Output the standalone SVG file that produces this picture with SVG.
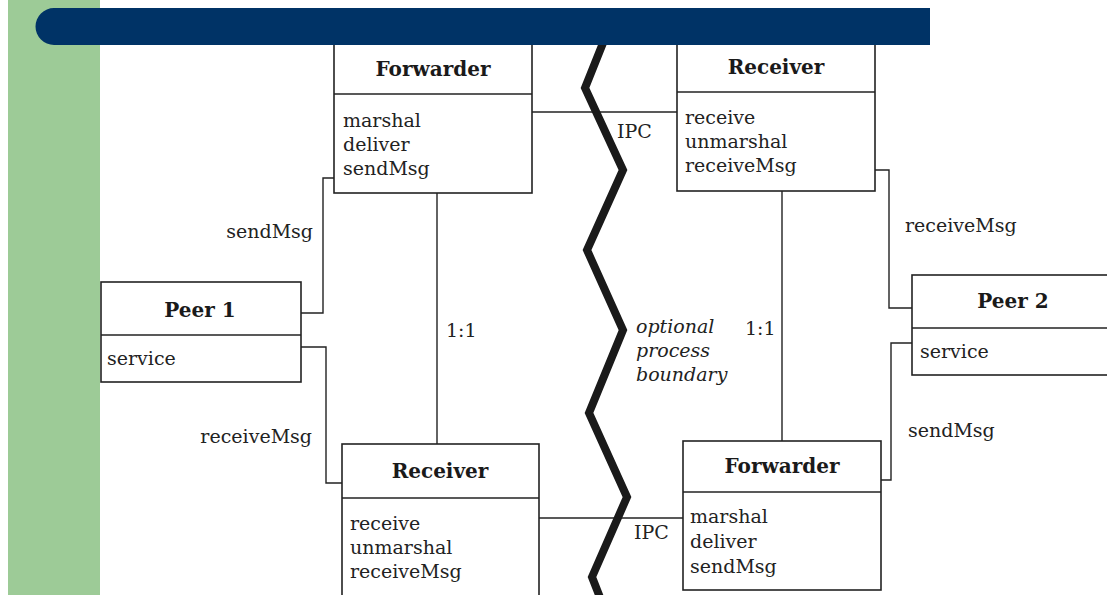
<svg xmlns="http://www.w3.org/2000/svg" width="1107" height="595" viewBox="0 0 1107 595">
<style>
.box{fill:#fff;stroke:#222;stroke-width:1.6}
.sep{stroke:#222;stroke-width:1.6}
.con{fill:none;stroke:#222;stroke-width:1.4}
.t{font-family:"DejaVu Serif","Liberation Serif",serif;font-size:19px;fill:#222}
.b{font-family:"DejaVu Serif","Liberation Serif",serif;font-size:20px;font-weight:bold;fill:#1a1a1a;text-anchor:middle}
.i{font-family:"DejaVu Serif","Liberation Serif",serif;font-size:19px;font-style:italic;fill:#222}
</style>
<rect x="0" y="0" width="1107" height="595" fill="#fff"/>
<rect x="8" y="0" width="92" height="595" fill="#9dcb97"/>
<g id="connectors">
<polyline class="con" points="301,313 323,313 323,178 334,178"/>
<polyline class="con" points="301,347 326,347 326,483 342,483"/>
<line class="con" x1="437" y1="193" x2="437" y2="444"/>
<line class="con" x1="532" y1="112" x2="677" y2="112"/>
<line class="con" x1="539" y1="518" x2="683" y2="518"/>
<line class="con" x1="782" y1="191" x2="782" y2="441"/>
<polyline class="con" points="875,170 889,170 889,308 912,308"/>
<polyline class="con" points="912,343 891,343 891,480 881,480"/>
<text class="t" x="313" y="238" text-anchor="end">sendMsg</text>
<text class="t" x="312" y="443" text-anchor="end">receiveMsg</text>
<text class="t" x="905" y="232">receiveMsg</text>
<text class="t" x="908" y="437">sendMsg</text>
<text class="t" x="446" y="337">1:1</text>
<text class="t" x="745" y="335">1:1</text>
<text class="t" x="617" y="138">IPC</text>
<text class="t" x="634" y="539">IPC</text>
</g>
<g id="boundary">
<polyline points="605,38 585,88 623,170 587,250 623,330 589,413 627,497 592,577 601,600" fill="none" stroke="#1a1a1a" stroke-width="8" stroke-linejoin="miter"/>
<text class="i" x="636" y="333">optional</text>
<text class="i" x="636" y="357">process</text>
<text class="i" x="636" y="381">boundary</text>
</g>
<g id="forwarder1">
<rect class="box" x="334" y="30" width="198" height="163"/>
<line class="sep" x1="334" y1="94" x2="532" y2="94"/>
<text class="b" x="433" y="76">Forwarder</text>
<text class="t" x="343" y="127">marshal</text>
<text class="t" x="343" y="151">deliver</text>
<text class="t" x="343" y="175">sendMsg</text>
</g>
<g id="receiver2">
<rect class="box" x="677" y="30" width="198" height="161"/>
<line class="sep" x1="677" y1="92" x2="875" y2="92"/>
<text class="b" x="776" y="74">Receiver</text>
<text class="t" x="685" y="124">receive</text>
<text class="t" x="685" y="148">unmarshal</text>
<text class="t" x="685" y="172">receiveMsg</text>
</g>
<g id="peer1">
<rect class="box" x="101" y="282" width="200" height="100"/>
<line class="sep" x1="101" y1="335" x2="301" y2="335"/>
<text class="b" x="200" y="317">Peer 1</text>
<text class="t" x="107" y="365">service</text>
</g>
<g id="peer2">
<rect class="box" x="912" y="275" width="210" height="100"/>
<line class="sep" x1="912" y1="328" x2="1122" y2="328"/>
<text class="b" x="1013" y="308">Peer 2</text>
<text class="t" x="920" y="358">service</text>
</g>
<g id="receiver1">
<rect class="box" x="342" y="444" width="197" height="165"/>
<line class="sep" x1="342" y1="498" x2="539" y2="498"/>
<text class="b" x="440" y="478">Receiver</text>
<text class="t" x="350" y="530">receive</text>
<text class="t" x="350" y="554">unmarshal</text>
<text class="t" x="350" y="578">receiveMsg</text>
</g>
<g id="forwarder2">
<rect class="box" x="683" y="441" width="198" height="149"/>
<line class="sep" x1="683" y1="492" x2="881" y2="492"/>
<text class="b" x="782" y="473">Forwarder</text>
<text class="t" x="690" y="523">marshal</text>
<text class="t" x="690" y="548">deliver</text>
<text class="t" x="690" y="573">sendMsg</text>
</g>
<g id="titlebar">
<path d="M54,8 H930 V45 H54 A18.5,18.5 0 0 1 54,8 Z" fill="#003366"/>
</g>
</svg>
